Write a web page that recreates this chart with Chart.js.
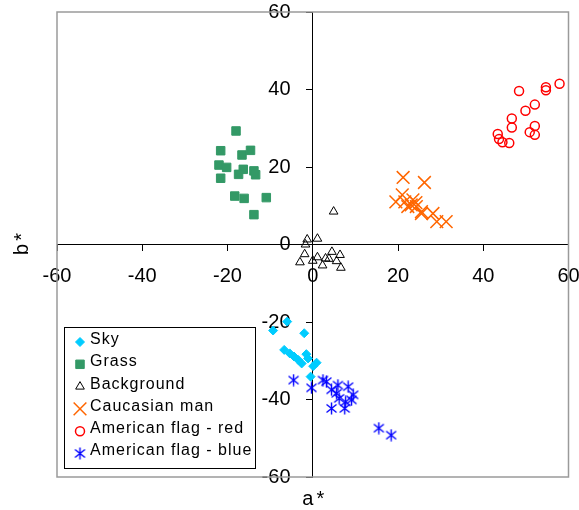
<!DOCTYPE html>
<html>
<head>
<meta charset="utf-8">
<script src="https://cdn.jsdelivr.net/npm/chart.js@4/dist/chart.umd.min.js"></script>
<style>
  html, body { margin: 0; padding: 0; background: #fff; }
  #wrap { width: 579px; height: 510px; position: relative; }
</style>
</head>
<body>
<div id="wrap"><canvas id="scatter"></canvas></div>
<script>
// a*, b* values
var seriesNames = ['Sky', 'Grass', 'Background', 'Caucasian man', 'American flag - red', 'American flag - blue'];

var skyA = [-6.0, -9.3, -2.0, -6.7, -5.4, -4.4, -3.4, -1.5, -2.6, -1.1, 0.9, 0.1, -0.5];
var skyB = [-19.9, -22.2, -22.9, -27.2, -28.1, -28.9, -29.8, -28.3, -30.7, -29.4, -30.5, -31.4, -34.1];

var grassA = [-18.0, -21.6, -16.6, -14.6, -22.0, -20.2, -16.3, -17.4, -13.8, -13.4, -21.6, -18.3, -16.1, -10.9, -13.8];
var grassB = [29.3, 24.2, 23.1, 24.3, 20.5, 19.9, 19.4, 18.1, 19.0, 18.0, 17.1, 12.5, 11.9, 12.1, 7.7];

var backA = [4.9, -1.3, 1.1, -1.7, -1.9, -3.0, 0.0, 1.1, 2.3, 3.0, 4.5, 3.8, 5.6, 6.4, 6.6];
var backB = [8.5, 1.3, 1.5, 0.0, -2.5, -4.6, -4.2, -3.3, -5.4, -3.6, -1.9, -3.7, -4.3, -2.7, -6.0];

var manA = [21.2, 26.2, 21.0, 19.5, 21.6, 23.5, 23.1, 24.2, 24.3, 25.5, 25.5, 28.2, 29.1, 31.3, 22.3];
var manB = [17.3, 16.0, 12.8, 11.0, 11.0, 11.5, 10.2, 10.8, 9.8, 8.5, 8.0, 8.0, 5.9, 5.9, 9.8];

var redA = [57.9, 54.7, 54.7, 48.4, 52.1, 49.9, 46.7, 46.7, 52.1, 50.9, 52.1, 43.4, 43.7, 44.5, 46.1];
var redB = [41.5, 40.6, 39.8, 39.6, 36.1, 34.5, 32.5, 30.2, 30.6, 29.0, 28.3, 28.5, 27.2, 26.4, 26.2];

var blueA = [-4.5, -0.3, 2.4, 3.2, 4.4, 5.9, 8.3, 9.5, 9.1, 6.2, 5.6, 4.4, 7.5, 7.7, 15.5, 18.4];
var blueB = [-35.0, -37.0, -35.0, -35.4, -37.5, -36.3, -36.7, -38.8, -40.1, -39.7, -38.4, -42.3, -42.3, -40.6, -47.4, -49.2];

var axisTicks = [-60, -40, -20, 0, 20, 40, 60];

function pairs(a, b) {
  var out = [];
  for (var i = 0; i < a.length; i++) {
    out.push({ x: a[i], y: b[i] });
  }
  return out;
}

// asterisk marker: vertical bar plus an X
function makeAsterisk(color) {
  var c = document.createElement('canvas');
  c.width = 13;
  c.height = 13;
  var g = c.getContext('2d');
  g.strokeStyle = color;
  g.lineWidth = 1.4;
  g.beginPath();
  g.moveTo(6.5, 0.5); g.lineTo(6.5, 12.5);
  g.moveTo(1.5, 2.5); g.lineTo(11.5, 10.5);
  g.moveTo(11.5, 2.5); g.lineTo(1.5, 10.5);
  g.stroke();
  return c;
}
var asterisk = makeAsterisk('#0000ff');

var FONT = '"Liberation Sans", Arial, sans-serif';

// labels should not push the plot area around
function noLabelPadding(scale) {
  scale.paddingLeft = 0;
  scale.paddingRight = 0;
  scale.paddingTop = 0;
  scale.paddingBottom = 0;
}

var frameAndTitles = {
  id: 'frameAndTitles',
  beforeDatasetsDraw: function(chart) {
    var ctx = chart.ctx;
    var a = chart.chartArea;
    ctx.save();
    ctx.strokeStyle = '#9a9a9a';
    ctx.lineWidth = 1.5;
    ctx.strokeRect(a.left, a.top, a.right - a.left, a.bottom - a.top);
    ctx.restore();
  },
  afterDraw: function(chart) {
    var ctx = chart.ctx;
    var a = chart.chartArea;
    ctx.save();
    ctx.fillStyle = '#000';
    ctx.font = '20px ' + FONT;
    ctx.letterSpacing = '3px';
    ctx.textAlign = 'center';
    ctx.textBaseline = 'middle';
    ctx.fillText('a*', (a.left + a.right) / 2 + 2, 499);
    ctx.translate(22, (a.top + a.bottom) / 2);
    ctx.rotate(-Math.PI / 2);
    ctx.fillText('b*', 2, 0);
    ctx.restore();

    // legend box in the lower left corner
    ctx.save();
    ctx.fillStyle = '#fff';
    ctx.fillRect(64, 327, 191, 141);
    ctx.strokeStyle = '#000';
    ctx.lineWidth = 1;
    ctx.strokeRect(64.5, 327.5, 191, 141);
    ctx.font = '16px ' + FONT;
    ctx.letterSpacing = '1px';
    ctx.textAlign = 'left';
    ctx.textBaseline = 'middle';
    chart.data.datasets.forEach(function(ds, i) {
      var y = 339.5 + i * 22.3;
      ctx.fillStyle = ds.backgroundColor;
      ctx.strokeStyle = ds.borderColor;
      ctx.lineWidth = ds.borderWidth;
      Chart.helpers.drawPoint(ctx, {
        pointStyle: ds.pointStyle,
        radius: ds.pointRadius,
        borderWidth: ds.borderWidth,
        rotation: 0
      }, 80, y + 2.5);
      ctx.fillStyle = '#000';
      ctx.fillText(ds.label, 90, y);
    });
    ctx.restore();
  }
};

new Chart(document.getElementById('scatter'), {
  type: 'scatter',
  data: {
    datasets: [{
      label: seriesNames[0],
      data: pairs(skyA, skyB),
      pointStyle: 'rectRot',
      pointRadius: 4.5,
      backgroundColor: '#00ccff',
      borderColor: '#00ccff',
      borderWidth: 1
    }, {
      label: seriesNames[1],
      data: pairs(grassA, grassB),
      pointStyle: 'rect',
      pointRadius: 6,
      backgroundColor: '#339966',
      borderColor: '#339966',
      borderWidth: 1
    }, {
      label: seriesNames[2],
      data: pairs(backA, backB),
      pointStyle: 'triangle',
      pointRadius: 5,
      backgroundColor: 'rgba(0,0,0,0)',
      borderColor: '#000000',
      borderWidth: 1
    }, {
      label: seriesNames[3],
      data: pairs(manA, manB),
      pointStyle: 'crossRot',
      pointRadius: 9,
      backgroundColor: '#ff6600',
      borderColor: '#ff6600',
      borderWidth: 1.5
    }, {
      label: seriesNames[4],
      data: pairs(redA, redB),
      pointStyle: 'circle',
      pointRadius: 4.5,
      backgroundColor: 'rgba(0,0,0,0)',
      borderColor: '#ff0000',
      borderWidth: 1.5
    }, {
      label: seriesNames[5],
      data: pairs(blueA, blueB),
      pointStyle: asterisk,
      pointRadius: 6,
      backgroundColor: '#0000ff',
      borderColor: '#0000ff',
      borderWidth: 1.4
    }]
  },
  options: {
    responsive: true,
    maintainAspectRatio: false,
    animation: false,
    layout: { padding: { left: 57, right: 10, top: 12, bottom: 33 } },
    plugins: {
      legend: { display: false },
      tooltip: { enabled: false }
    },
    scales: {
      x: {
        type: 'linear',
        position: { y: 0 },
        min: -60,
        max: 60,
        afterBuildTicks: function(scale) {
          scale.ticks = axisTicks.map(function(v) { return { value: v }; });
        },
        afterFit: noLabelPadding,
        grid: { drawOnChartArea: false, drawTicks: true, tickLength: 6, color: '#000' },
        border: { color: '#000', width: 1 },
        ticks: { color: '#000', padding: 14, maxRotation: 0, font: { family: FONT, size: 20 } }
      },
      y: {
        type: 'linear',
        position: { x: 0 },
        min: -60,
        max: 60,
        afterBuildTicks: function(scale) {
          scale.ticks = axisTicks.map(function(v) { return { value: v }; });
        },
        afterFit: noLabelPadding,
        grid: { drawOnChartArea: false, drawTicks: true, tickLength: 6, color: '#000' },
        border: { color: '#000', width: 1 },
        ticks: {
          color: '#000',
          font: { family: FONT, size: 20 },
          // centred axes put the labels right against the line, so pad with spaces
          callback: function(value) { return value + '    '; }
        }
      }
    }
  },
  plugins: [frameAndTitles]
});
</script>
</body>
</html>
